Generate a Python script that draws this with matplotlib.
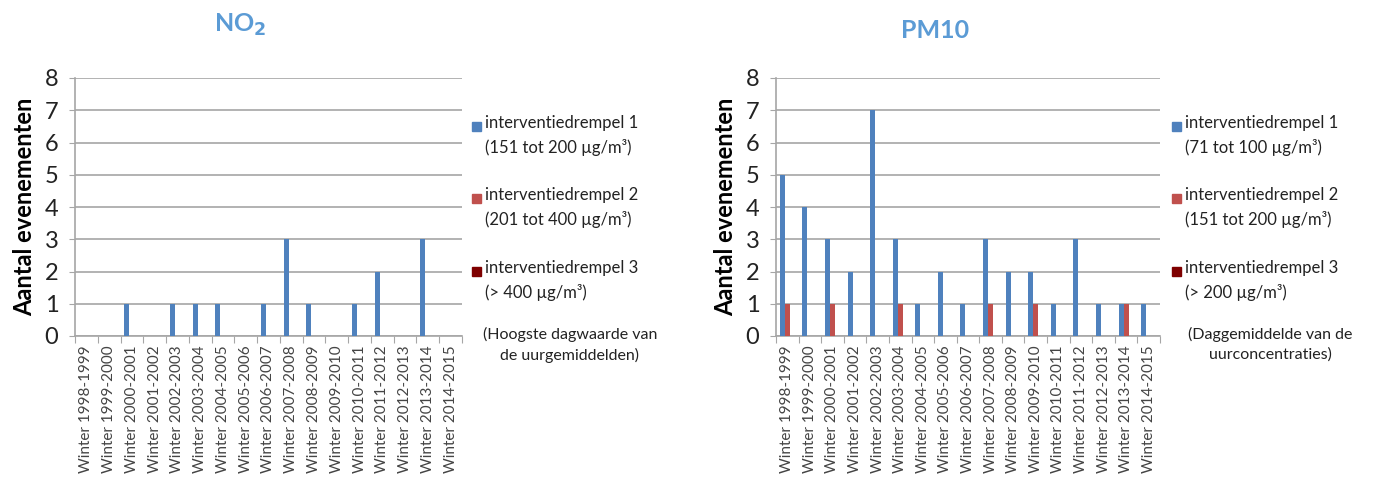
import matplotlib
matplotlib.use("Agg")
import matplotlib.pyplot as plt
import numpy as np

plt.rcParams['font.family'] = ['Lato', 'DejaVu Sans']

winters = ["Winter %d-%d" % (y, y + 1) for y in range(1998, 2015)]

# NO2: hoogste dagwaarde van de uurgemiddelden
no2_drempel1 = [0, 0, 1, 0, 1, 1, 1, 0, 1, 3, 1, 0, 1, 2, 0, 3, 0]
no2_drempel2 = [0] * 17
no2_drempel3 = [0] * 17

# PM10: daggemiddelde van de uurconcentraties
pm10_drempel1 = [5, 4, 3, 2, 7, 3, 1, 2, 1, 3, 2, 2, 1, 3, 1, 1, 1]
pm10_drempel2 = [1, 0, 1, 0, 0, 1, 0, 0, 0, 1, 0, 1, 0, 0, 0, 1, 0]
pm10_drempel3 = [0] * 17

no2_legend = ["interventiedrempel 1\n(151 tot 200 µg/m³)",
              "interventiedrempel 2\n(201 tot 400 µg/m³)",
              "interventiedrempel 3\n(> 400 µg/m³)"]
pm10_legend = ["interventiedrempel 1\n(71 tot 100 µg/m³)",
               "interventiedrempel 2\n(151 tot 200 µg/m³)",
               "interventiedrempel 3\n(> 200 µg/m³)"]

colors = ['#4f81bd', '#c0504d', '#7f0000']
title_color = '#5b9bd5'
grid_color = '#a6a6a6'

fig = plt.figure(figsize=(13.97, 4.83), dpi=100)
W, H = 1397.0, 483.0


def draw_panel(ax, series):
    n = len(series)
    w = 1.0 / (n + 1.5)
    x = np.arange(len(winters))
    for k, vals in enumerate(series):
        ax.bar(x + 0.75 * w + k * w, vals, width=w, align='edge',
               color=colors[k], zorder=3)
    ax.set_xlim(0, len(winters))
    ax.set_ylim(0, 8)
    ax.set_yticks(range(0, 9))
    ax.tick_params(axis='y', labelsize=17, length=4, color=grid_color,
                   labelcolor='#222222', pad=8)
    ax.set_xticks(np.arange(len(winters) + 1))
    ax.set_xticklabels([])
    ax.set_xticks(x + 0.5, minor=True)
    ax.set_xticklabels(winters, minor=True, rotation=90, fontsize=11,
                       color='#444444')
    ax.tick_params(axis='x', which='major', length=5, color=grid_color)
    ax.tick_params(axis='x', which='minor', length=0, pad=7)
    ax.grid(axis='y', color=grid_color, linewidth=1.2, zorder=0)
    for s in ('top', 'right'):
        ax.spines[s].set_visible(False)
    for s in ('left', 'bottom'):
        ax.spines[s].set_color(grid_color)
        ax.spines[s].set_linewidth(1.2)
    ax.set_ylabel("Aantal evenementen", fontsize=17, fontweight='bold',
                  labelpad=6)


def draw_legend(x0, labels, note):
    ys = [125, 197, 270]
    for k, lab in enumerate(labels):
        fig.patches.append(plt.Rectangle((x0 / W, 1 - (ys[k] + 6) / H),
                                         9 / W, 9 / H, color=colors[k],
                                         transform=fig.transFigure))
        fig.text((x0 + 13) / W, 1 - (ys[k] - 10) / H, lab, fontsize=12,
                 va='top', ha='left', linespacing=1.6, color='#222222')
    fig.text((x0 + 98) / W, 1 - 327 / H, note, fontsize=11.5, va='top',
             ha='center', linespacing=1.5, color='#222222')


ax1 = fig.add_axes([75 / W, 1 - 336 / H, 387 / W, 258 / H])
draw_panel(ax1, [no2_drempel1, no2_drempel2, no2_drempel3])
fig.text(240 / W, 1 - 25 / H, r"NO$_\mathbf{2}$", fontsize=18,
         fontweight='bold', color=title_color, ha='center', va='center')
draw_legend(472, no2_legend, "(Hoogste dagwaarde van\nde uurgemiddelden)")

ax2 = fig.add_axes([776 / W, 1 - 336 / H, 384 / W, 258 / H])
draw_panel(ax2, [pm10_drempel1, pm10_drempel2, pm10_drempel3])
fig.text(935 / W, 1 - 30 / H, "PM10", fontsize=18, fontweight='bold',
         color=title_color, ha='center', va='center')
draw_legend(1172, pm10_legend, "(Daggemiddelde van de\nuurconcentraties)")

fig.savefig("out.png", dpi=100)
